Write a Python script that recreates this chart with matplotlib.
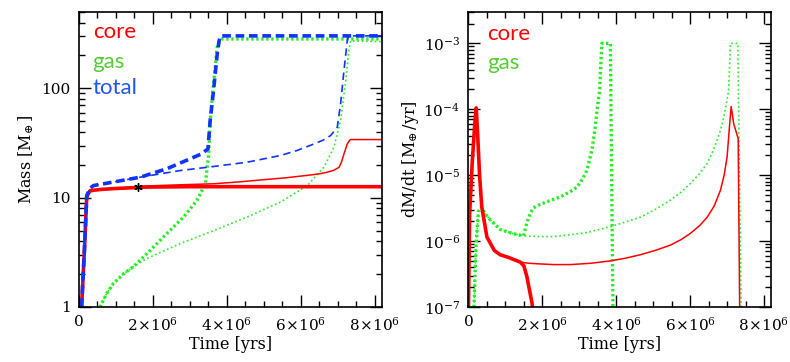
import numpy as np
import matplotlib.pyplot as plt
from matplotlib.ticker import FixedLocator, LogLocator, NullFormatter, FuncFormatter

plt.rcParams['mathtext.fontset'] = 'dejavuserif'
plt.rcParams['font.family'] = 'DejaVu Serif'

# ---- left panel: masses [M_earth] vs time [yr] ----
core1_t = [0.07e6, 0.15e6, 0.21e6, 0.30e6, 0.6e6, 0.93e6, 1.84e6, 3.0e6, 5.0e6, 8.2e6]
core1_m = [1.0, 3.5, 10.2, 11.6, 11.9, 12.1, 12.5, 12.6, 12.6, 12.6]

core2_t = [0.07e6, 0.15e6, 0.21e6, 0.30e6, 0.6e6, 0.93e6, 1.84e6, 2.7e6, 3.65e6, 4.4e6, 5.0e6,
           5.6e6, 6.18e6, 6.5e6, 6.72e6, 6.9e6, 7.04e6, 7.1e6, 7.17e6, 7.26e6, 7.34e6, 8.2e6]
core2_m = [1.0, 3.5, 10.2, 11.6, 11.9, 12.1, 12.8, 13.1, 13.4, 14.0, 14.6,
           15.2, 16.0, 16.5, 17.1, 17.8, 19.0, 21.0, 25.0, 31.0, 34.0, 34.0]

total1_t = [0.07e6, 0.15e6, 0.21e6, 0.30e6, 0.39e6, 0.93e6, 1.66e6, 2.38e6, 3.01e6, 3.3e6, 3.49e6,
            3.55e6, 3.65e6, 3.74e6, 3.79e6, 3.83e6, 8.2e6]
total1_m = [1.0, 3.5, 10.5, 12.2, 12.9, 13.9, 15.4, 18.4, 22.7, 25.0, 27.9,
            50.7, 102.0, 205.0, 270.0, 302.0, 302.0]

total2_t = [0.07e6, 0.15e6, 0.21e6, 0.30e6, 0.39e6, 0.93e6, 1.66e6, 2.74e6, 3.49e6, 4.55e6, 5.45e6,
            5.9e6, 6.36e6, 6.6e6, 6.81e6, 6.99e6, 7.08e6, 7.17e6, 7.26e6, 7.30e6, 8.2e6]
total2_m = [1.0, 3.5, 10.5, 12.2, 12.9, 13.9, 15.4, 17.7, 19.0, 21.1, 24.3,
            27.0, 31.0, 33.5, 37.0, 44.0, 72.0, 144.0, 272.0, 302.0, 302.0]

gas1_t = [0.57e6, 0.75e6, 0.93e6, 1.2e6, 1.47e6, 1.84e6, 2.38e6, 2.83e6, 3.19e6, 3.42e6, 3.51e6,
          3.55e6, 3.65e6, 3.74e6, 3.8e6, 3.87e6, 8.2e6]
gas1_m = [1.0, 1.33, 1.64, 2.0, 2.33, 3.08, 4.7, 6.65, 9.4, 13.4, 25.0,
          50.0, 117.0, 236.0, 270.0, 283.0, 283.0]

gas2_t = [0.57e6, 0.75e6, 0.93e6, 1.2e6, 1.47e6, 1.84e6, 2.74e6, 3.65e6, 4.55e6, 5.45e6, 6.18e6,
          6.63e6, 6.9e6, 7.08e6, 7.22e6, 7.29e6, 7.35e6, 8.2e6]
gas2_m = [1.0, 1.33, 1.64, 2.0, 2.33, 2.78, 3.8, 5.0, 6.65, 9.1, 12.9,
          19.0, 28.9, 51.0, 117.0, 205.0, 272.0, 268.0]

star_t = [1.61e6]
star_m = [12.6]

# ---- right panel: rates [M_earth/yr] vs time [yr] ----
rcore1_t = [0.0, 0.03e6, 0.1e6, 0.17e6, 0.21e6, 0.25e6, 0.30e6, 0.36e6, 0.5e6, 0.7e6, 0.86e6,
            1.1e6, 1.4e6, 1.5e6, 1.58e6, 1.66e6, 1.72e6, 1.8e6]
rcore1_r = [1e-7, 2.5e-6, 1.5e-5, 6e-5, 1.05e-4, 4e-5, 1e-5, 3.3e-6, 1.15e-6, 7.2e-7, 6.2e-7,
            5.6e-7, 4.8e-7, 4.2e-7, 2.9e-7, 1.7e-7, 1.15e-7, 5e-8]

rcore2_t = [0.0, 0.03e6, 0.1e6, 0.17e6, 0.21e6, 0.25e6, 0.30e6, 0.36e6, 0.5e6, 0.7e6, 0.86e6,
            1.1e6, 1.4e6, 1.65e6, 1.94e6, 2.3e6, 2.76e6, 3.3e6, 3.84e6, 4.25e6, 4.65e6, 5.05e6,
            5.47e6, 5.75e6, 6.0e6, 6.25e6, 6.46e6, 6.65e6, 6.82e6, 6.92e6, 7.0e6, 7.07e6,
            7.11e6, 7.18e6, 7.30e6, 7.34e6, 7.35e6]
rcore2_r = [1e-7, 2.5e-6, 1.5e-5, 6e-5, 1.05e-4, 4e-5, 1e-5, 3.3e-6, 1.15e-6, 7.2e-7, 6.2e-7,
            5.6e-7, 4.8e-7, 4.6e-7, 4.5e-7, 4.4e-7, 4.4e-7, 4.6e-7, 5.0e-7, 5.5e-7, 6.2e-7, 7.2e-7,
            8.7e-7, 1.05e-6, 1.3e-6, 1.7e-6, 2.3e-6, 3.4e-6, 5.9e-6, 1.0e-5, 1.9e-5, 6e-5,
            1.1e-4, 6e-5, 3.6e-5, 1e-7, 1e-8]

rgas1_t = [0.15e6, 0.2e6, 0.27e6, 0.36e6, 0.45e6, 0.59e6, 0.86e6, 1.2e6, 1.49e6, 1.58e6, 1.68e6,
           1.76e6, 1.94e6, 2.2e6, 2.49e6, 2.75e6, 2.94e6, 3.1e6, 3.21e6, 3.34e6, 3.42e6, 3.48e6,
           3.55e6, 3.58e6, 3.61e6, 3.84e6, 3.91e6, 3.92e6]
rgas1_r = [1e-7, 8e-7, 2.8e-6, 3.3e-6, 2.6e-6, 2.1e-6, 1.5e-6, 1.3e-6, 1.2e-6, 1.9e-6, 2.7e-6,
           3.2e-6, 3.6e-6, 4.1e-6, 4.7e-6, 5.6e-6, 6.6e-6, 9.0e-6, 1.2e-5, 2.4e-5, 4.8e-5, 9.6e-5,
           1.9e-4, 4.5e-4, 1e-3, 1e-3, 1e-7, 1e-8]

rgas2_t = [0.15e6, 0.2e6, 0.27e6, 0.36e6, 0.45e6, 0.59e6, 0.86e6, 1.2e6, 1.49e6, 1.9e6, 2.3e6,
           2.76e6, 3.21e6, 3.84e6, 4.25e6, 4.65e6, 5.05e6, 5.47e6, 5.75e6, 6.0e6, 6.25e6, 6.46e6,
           6.6e6, 6.73e6, 6.82e6, 6.91e6, 6.98e6, 7.04e6, 7.09e6, 7.29e6, 7.38e6, 7.39e6]
rgas2_r = [1e-7, 8e-7, 2.8e-6, 3.3e-6, 2.6e-6, 2.1e-6, 1.5e-6, 1.3e-6, 1.2e-6, 1.17e-6, 1.17e-6,
           1.25e-6, 1.35e-6, 1.65e-6, 1.95e-6, 2.3e-6, 3.0e-6, 4.2e-6, 5.5e-6, 7.4e-6, 1.05e-5, 1.5e-5,
           2.2e-5, 3.4e-5, 4.8e-5, 7.6e-5, 1.2e-4, 1.9e-4, 1e-3, 1e-3, 1e-7, 1e-8]

RED = '#ff0000'
BLUE = '#1133ff'
GREEN = '#22ee22'

fig = plt.figure(figsize=(7.9, 3.62), dpi=100)
ax1 = fig.add_axes([0.100, 0.152, 0.3835, 0.815])
ax2 = fig.add_axes([0.593, 0.152, 0.3835, 0.815])


def time_fmt(v, pos):
    if v == 0:
        return '0'
    return r'$%d\!\times\!10^{6}$' % round(v / 1e6)


def style(ax):
    ax.set_xlim(0, 8.2e6)
    ax.set_yscale('log')
    ax.xaxis.set_major_locator(FixedLocator([0, 2e6, 4e6, 6e6, 8e6]))
    ax.xaxis.set_minor_locator(FixedLocator(np.arange(0, 8.3e6, 0.5e6)))
    ax.xaxis.set_major_formatter(FuncFormatter(time_fmt))
    ax.yaxis.set_minor_locator(LogLocator(base=10, subs=np.arange(2, 10)))
    ax.yaxis.set_minor_formatter(NullFormatter())
    ax.tick_params(which='both', direction='in', top=True, right=True, labelsize=11, width=1.0)
    ax.tick_params(which='major', length=8.5, pad=6)
    ax.tick_params(which='minor', length=4)
    for s in ax.spines.values():
        s.set_linewidth(1.2)
    ax.set_xlabel('Time [yrs]', fontsize=11.5, labelpad=2)


# left panel
ax1.plot(gas1_t, gas1_m, color=GREEN, lw=2.4, dashes=(0.7, 0.8))
ax1.plot(gas2_t, gas2_m, color=GREEN, lw=1.2, dashes=(1.0, 1.6))
ax1.plot(core1_t, core1_m, color=RED, lw=2.6)
ax1.plot(core2_t, core2_m, color=RED, lw=1.1)
ax1.plot(total1_t, total1_m, color=BLUE, lw=2.6, dashes=(2.4, 1.3))
ax1.plot(total2_t, total2_m, color=BLUE, lw=1.2, dashes=(4.5, 2.8))
ax1.plot(star_t, star_m, ls='none', marker=(6, 2, 0), ms=6, mew=1.0, color='black')
style(ax1)
ax1.set_ylim(1, 500)
ax1.yaxis.set_major_locator(FixedLocator([1, 10, 100]))
ax1.yaxis.set_major_formatter(FuncFormatter(lambda v, p: '%d' % round(v)))
ax1.set_ylabel(r'Mass [$\mathrm{M}_{\!\oplus}$]', fontsize=11.5, labelpad=4)

lfont = dict(family='Lato', fontsize=16, transform=ax1.transAxes, va='center', ha='left')
ax1.text(0.045, 0.932, 'core', color=RED, **lfont)
ax1.text(0.045, 0.832, 'gas', color='#55cc33', **lfont)
ax1.text(0.045, 0.742, 'total', color='#2255ee', **lfont)

# right panel
ax2.plot(rgas1_t, rgas1_r, color=GREEN, lw=2.4, dashes=(0.7, 0.8))
ax2.plot(rgas2_t, rgas2_r, color=GREEN, lw=1.2, dashes=(1.0, 1.6))
ax2.plot(rcore1_t, rcore1_r, color=RED, lw=2.6)
ax2.plot(rcore2_t, rcore2_r, color=RED, lw=1.1)
style(ax2)
ax2.set_ylim(1e-7, 3e-3)
ax2.yaxis.set_major_locator(FixedLocator([1e-7, 1e-6, 1e-5, 1e-4, 1e-3]))
ax2.yaxis.set_major_formatter(FuncFormatter(lambda v, p: r'$10^{%d}$' % round(np.log10(v))))
ax2.set_ylabel(r'dM/dt [$\mathrm{M}_{\!\oplus}$/yr]', fontsize=11.5, labelpad=2)

rfont = dict(family='Lato', fontsize=16, transform=ax2.transAxes, va='center', ha='left')
ax2.text(0.062, 0.925, 'core', color=RED, **rfont)
ax2.text(0.062, 0.827, 'gas', color='#55cc33', **rfont)

fig.savefig('out.png', dpi=100)
